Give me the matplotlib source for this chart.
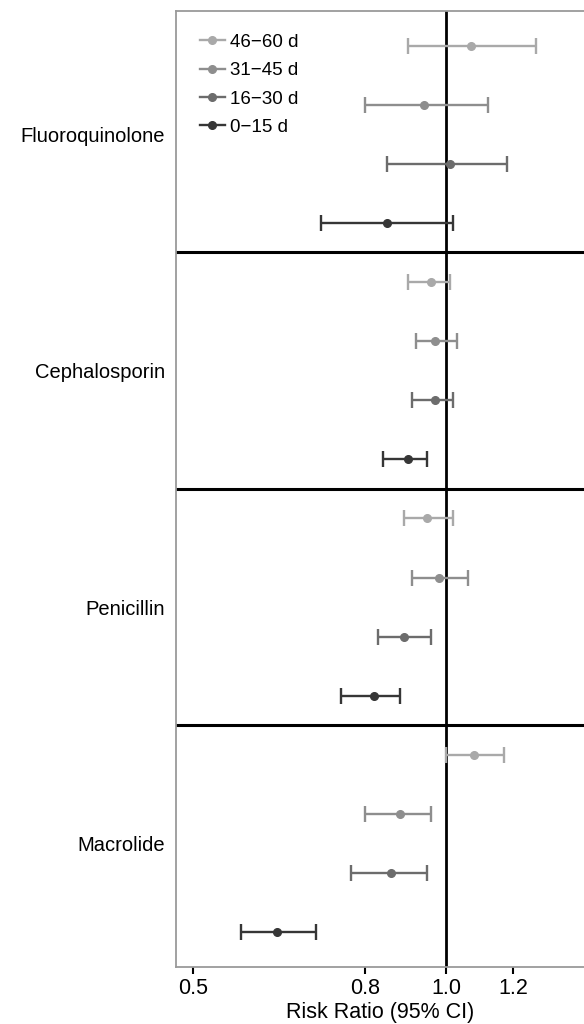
import matplotlib
matplotlib.use("Agg")
import matplotlib.pyplot as plt
from matplotlib.lines import Line2D

plt.rcParams["font.family"] = ["Liberation Sans", "DejaVu Sans"]

# drug classes, top to bottom
classes = ["Fluoroquinolone", "Cephalosporin", "Penicillin", "Macrolide"]
# exposure windows, listed in legend order (top row of each panel first)
windows = ["46\u221260 d", "31\u221245 d", "16\u221230 d", "0\u221215 d"]
window_colors = ["#a9a9a9", "#8e8e8e", "#6c6c6c", "#363636"]

# risk ratio estimates, one row per class, one column per window
rr = [
    [1.07, 0.94, 1.01, 0.85],
    [0.96, 0.97, 0.97, 0.90],
    [0.95, 0.98, 0.89, 0.82],
    [1.08, 0.88, 0.86, 0.63],
]
rr_lower = [
    [0.90, 0.80, 0.85, 0.71],
    [0.90, 0.92, 0.91, 0.84],
    [0.89, 0.91, 0.83, 0.75],
    [1.00, 0.80, 0.77, 0.57],
]
rr_upper = [
    [1.28, 1.12, 1.18, 1.02],
    [1.01, 1.03, 1.02, 0.95],
    [1.02, 1.06, 0.96, 0.88],
    [1.17, 0.96, 0.95, 0.70],
]

x_ticks = [0.5, 0.8, 1.0, 1.2]
x_ticklabels = ["0.5", "0.8", "1.0", "1.2"]

fig = plt.figure(figsize=(5.84, 10.24), dpi=100)
ax = fig.add_axes([0.301, 0.0557, 0.699, 0.9336])

rows_per_panel = len(windows)
ax.axvline(1.0, color="black", lw=2.0, zorder=1)
for k in range(1, len(classes)):
    ax.axhline(k * rows_per_panel, color="black", lw=2.2, zorder=1)

for i, cls in enumerate(classes):
    for j, win in enumerate(windows):
        y = i * rows_per_panel + j + 0.5
        est = rr[i][j]
        ax.errorbar(
            [est], [y],
            xerr=[[est - rr_lower[i][j]], [rr_upper[i][j] - est]],
            fmt="o", color=window_colors[j], ms=5.5, lw=1.7,
            capsize=5.5, capthick=1.7, zorder=3,
        )

handles = [
    Line2D([], [], color=c, marker="o", lw=1.7, ms=5.5) for c in window_colors
]
ax.legend(
    handles, windows, loc="upper left", frameon=False, fontsize=13.5,
    handlelength=1.35, handletextpad=0.25, labelspacing=0.6,
    borderaxespad=0.0, bbox_to_anchor=(0.04, 0.984),
)

ax.set_xscale("log")
ax.set_xlim(0.477, 1.458)
ax.set_xticks(x_ticks)
ax.set_xticklabels(x_ticklabels)
ax.xaxis.set_minor_locator(matplotlib.ticker.NullLocator())
# a little padding above the first row and below the last
ax.set_ylim(len(classes) * rows_per_panel + 0.09, -0.087)
ax.set_yticks([i * rows_per_panel + rows_per_panel / 2 for i in range(len(classes))])
ax.set_yticklabels(classes)

ax.tick_params(axis="y", length=0, labelsize=14.5, pad=8)
ax.tick_params(axis="x", length=5, width=1.5, color="black", labelsize=15.5, pad=3)
ax.set_xlabel("Risk Ratio (95% CI)", fontsize=15.5, labelpad=2)

for side in ["left", "top", "bottom"]:
    ax.spines[side].set_color("#9a9a9a")
    ax.spines[side].set_linewidth(1.3)
ax.spines["right"].set_visible(False)

fig.savefig("out.png", dpi=100, facecolor="white")
